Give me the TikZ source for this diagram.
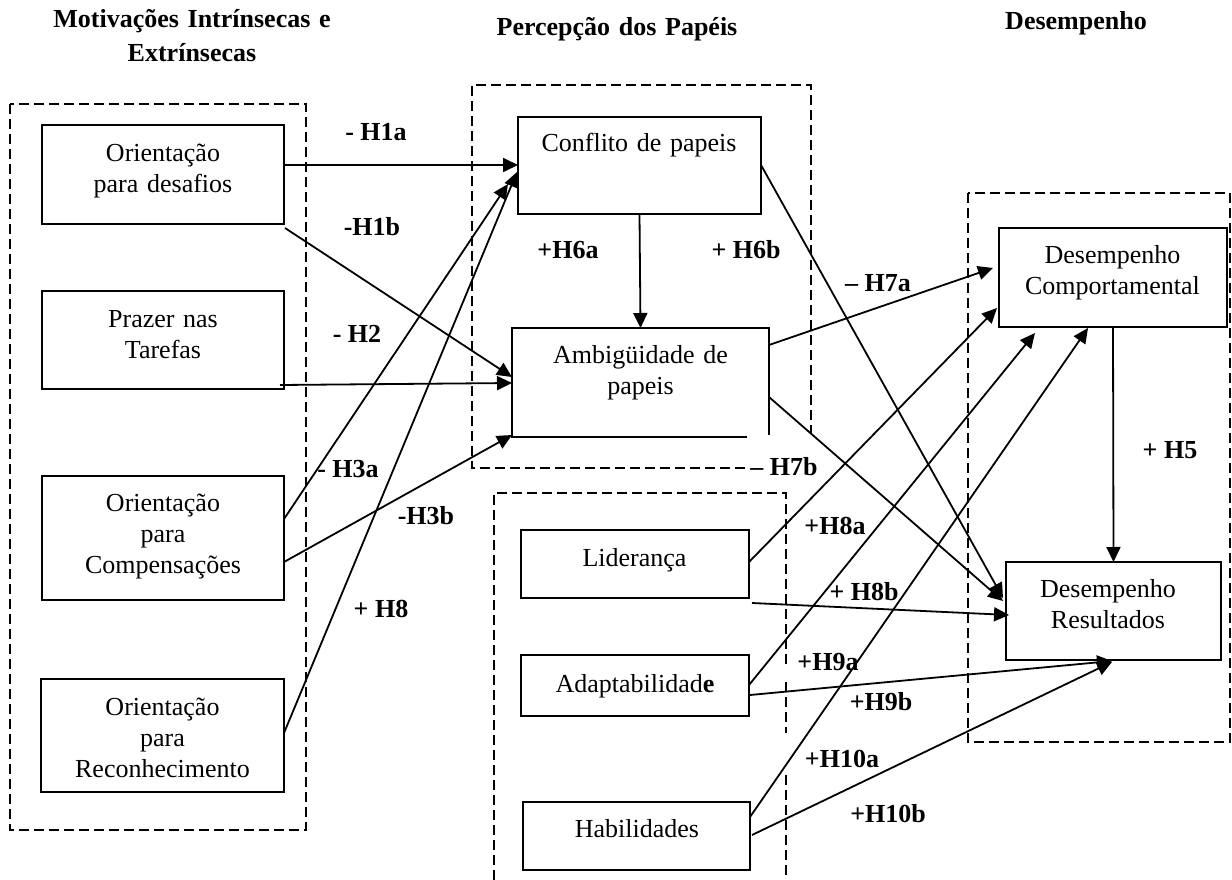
\documentclass[tikz,border=0pt]{standalone}
\usepackage{fontspec}
\setmainfont{Liberation Serif}
\usetikzlibrary{calc,arrows.meta}
\begin{document}
\begin{tikzpicture}[x=1pt,y=-1pt,
  box/.style={draw,line width=1.8pt,inner sep=0pt,outer sep=0pt},
  boxline/.style={line width=1.8pt},
  txt/.style={font=\fontsize{26}{31}\selectfont,text width=400pt,align=center,anchor=base,inner sep=0pt},
  ttl/.style={font=\fontsize{26}{34}\selectfont\bfseries,text width=400pt,align=center,anchor=base,inner sep=0pt},
  lab/.style={font=\fontsize{26}{30}\selectfont\bfseries,anchor=base,inner sep=0pt},
  con/.style={line width=1.8pt,-{Triangle[length=15pt,width=14pt]}},
  grp/.style={line width=2.4pt,dash pattern=on 10pt off 5pt}]
\useasboundingbox (0,0) rectangle (1232,880);

% titles
\node[ttl] (ttlA) at (192,28) {Motivações Intrínsecas e\\Extrínsecas};
\node[ttl] (ttlB) at (617,36) {Percepção dos Papéis};
\node[ttl] (ttlC) at (1076,30) {Desempenho};

% group frames
\draw[grp] (10,104) rectangle (306,830);
\draw[grp] (745,468) -- (472,468) -- (472,85) -- (811,85) -- (811,433);
\draw[grp] (968,193) rectangle (1230,742);
\draw[grp] (494,880) -- (494,493) -- (786,493) -- (786,667);
\draw[grp] (786,682) -- (786,733);
\draw[grp] (786,775) -- (786,880);

% boxes
\node[box,minimum width=242pt,minimum height=99pt] (L1) at (163,174.5) {};
\node[box,minimum width=242pt,minimum height=98pt] (L2) at (163,340) {};
\node[box,minimum width=242pt,minimum height=124pt] (L3) at (163,538) {};
\node[box,minimum width=243pt,minimum height=113pt] (L4) at (162.5,735.5) {};
\node[box,minimum width=243pt,minimum height=97pt] (M1) at (639.5,165.5) {};
\node[box,draw=none,minimum width=257pt,minimum height=109pt] (M2) at (640.5,382.5) {};
\draw[boxline] ($(M2.south east)+(-22,0)$) -- (M2.south west) -- (M2.north west) -- (M2.north east) -- ($(M2.south east)+(0,-2)$);
\node[box,minimum width=228pt,minimum height=99pt] (R1) at (1113,277.5) {};
\node[box,minimum width=215pt,minimum height=98pt] (R2) at (1113.5,611) {};
\node[box,minimum width=228pt,minimum height=68pt] (B1) at (635,564) {};
\node[box,minimum width=228pt,minimum height=61pt] (B2) at (635,685.5) {};
\node[box,minimum width=227pt,minimum height=68pt] (B3) at (636.5,836) {};

% box texts
\node[txt] (tL1) at (163,162) {Orientação\\para desafios};
\node[txt] (tL2) at (163,327) {Prazer nas\\Tarefas};
\node[txt] (tL3) at (163,511) {Orientação\\para\\Compensações};
\node[txt] (tL4) at (162.5,715) {Orientação\\para\\Reconhecimento};
\node[txt] (tM1) at (639,152) {Conflito de papeis};
\node[txt] (tM2) at (640.5,363) {Ambigüidade de\\papeis};
\node[txt] (tR1) at (1112.5,263) {Desempenho\\Comportamental};
\node[txt] (tR2) at (1108,597) {Desempenho\\Resultados};
\node[txt] (tB1) at (634.5,566) {Liderança};
\node[txt] (tB2) at (635,692) {Adaptabilidad\textbf{e}};
\node[txt] (tB3) at (637,837) {Habilidades};

% connectors
\draw[con] ($(L1.north east)+(0,40)$) -- ($(M1.north west)+(0,48)$);
\draw[con] ($(L1.south east)+(1,4)$) -- ($(M2.north west)+(0,49)$);
\draw[con] ($(L2.south east)+(-4,-4)$) -- ($(M2.north west)+(0,55)$);
\draw[con] ($(L3.north east)+(0,43)$) -- ($(M1.north west)+(-10,67)$);
\draw[con] ($(L3.north east)+(0,86)$) -- ($(M2.south west)+(0,-2)$);
\draw[con] ($(L4.north east)+(0,54)$) -- ($(M1.north west)+(-1,55)$);
\draw[con] (M1.south) -- (M2.north);
\draw[con] ($(M1.north east)+(0,48)$) -- ($(R2.north west)+(-3,36)$);
\draw[con] ($(M2.north east)+(0,17)$) -- ($(R1.north west)+(-6,40)$);
\draw[con] ($(M2.north east)+(0,69)$) -- ($(R2.north west)+(-3,39)$);
\draw[con] ($(B1.north east)+(0,32)$) -- ($(R1.south west)+(-2,-19)$);
\draw[con] ($(B1.south east)+(3,5)$) -- ($(R2.north west)+(3,53)$);
\draw[con] ($(B2.north east)+(0,30)$) -- ($(R1.south west)+(36,6)$);
\draw[con] ($(B2.north east)+(1,40)$) -- ($(R2.south west)+(106,1)$);
\draw[con] ($(B3.north east)+(0,15)$) -- ($(R1.south west)+(89,1)$);
\draw[con] ($(B3.north east)+(2,33)$) -- ($(R2.south west)+(106,2)$);
\draw[con] (R1.south) -- (R2.north);

% labels
\node[lab] (h1a) at (376,141) {- H1a};
\node[lab] (h1b) at (372,235) {-H1b};
\node[lab] (h2) at (357,342) {- H2};
\node[lab] (h3a) at (348,477) {- H3a};
\node[lab] (h3b) at (426,524) {-H3b};
\node[lab] (h8) at (381,617) {+ H8};
\node[lab] (h6a) at (568,258) {+H6a};
\node[lab] (h6b) at (746,258) {+ H6b};
\node[lab] (h7a) at (878,291) {– H7a};
\node[lab] (h7b) at (784,475) {– H7b};
\node[lab] (h8a) at (835,534) {+H8a};
\node[lab] (h8b) at (864,600) {+ H8b};
\node[lab] (h9a) at (828,670) {+H9a};
\node[lab] (h9b) at (881,710) {+H9b};
\node[lab] (h10a) at (842,767) {+H10a};
\node[lab] (h10b) at (888,822) {+H10b};
\node[lab] (h5) at (1170,458) {+ H5};
\end{tikzpicture}
\end{document}
